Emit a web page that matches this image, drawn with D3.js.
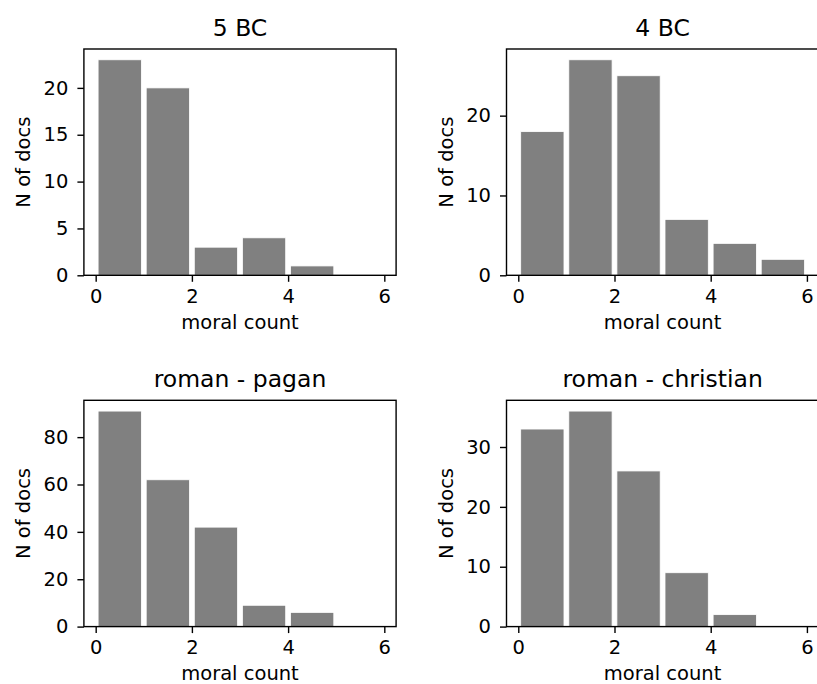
<!DOCTYPE html>
<html>
<head>
<meta charset="utf-8">
<script src="https://cdn.jsdelivr.net/npm/d3@7"></script>
<style>
  html, body { margin: 0; padding: 0; background: #fff; }
  svg { display: block; }
  text { font-family: "DejaVu Sans", sans-serif; fill: #000; }
</style>
</head>
<body>
<svg id="chart" width="817" height="684"></svg>
<script>
// ---- data ----
const titles = ["5 BC", "4 BC", "roman - pagan", "roman - christian"];
const binEdges = [0, 1, 2, 3, 4, 5, 6];
const counts5BC = [23, 20, 3, 4, 1, 0];
const counts4BC = [18, 27, 25, 7, 4, 2];
const countsPagan = [91, 62, 42, 9, 6, 0];
const countsChristian = [33, 36, 26, 9, 2, 0];
const xTicks = [0, 2, 4, 6];
const yTicks5BC = [0, 5, 10, 15, 20];
const yTicks4BC = [0, 10, 20];
const yTicksPagan = [0, 20, 40, 60, 80];
const yTicksChristian = [0, 10, 20, 30];
const xLabel = "moral count";
const yLabel = "N of docs";

const panels = [
  { title: titles[0], counts: counts5BC, yTicks: yTicks5BC, left: 83.9, top: 49 },
  { title: titles[1], counts: counts4BC, yTicks: yTicks4BC, left: 506.5, top: 49 },
  { title: titles[2], counts: countsPagan, yTicks: yTicksPagan, left: 83.9, top: 400.3 },
  { title: titles[3], counts: countsChristian, yTicks: yTicksChristian, left: 506.5, top: 400.3 }
];

const W = 312.2, H = 226.3;
const rwidth = 0.9;
const svg = d3.select("#chart");
const tickLen = 6.5;
const fs = 19.5;

panels.forEach(p => {
  const g = svg.append("g").attr("transform", `translate(${p.left},${p.top})`);
  const lo = binEdges[0] + (1 - rwidth) / 2;
  const hi = binEdges[binEdges.length - 1] - (1 - rwidth) / 2;
  const m = (hi - lo) * 0.05;
  const x = d3.scaleLinear().domain([lo - m, hi + m]).range([0, W]);
  const ymax = d3.max(p.counts) * 1.05;
  const y = d3.scaleLinear().domain([0, ymax]).range([H, 0]);

  const bins = p.counts.map((c, i) => ({ x0: binEdges[i], x1: binEdges[i + 1], c }));
  g.selectAll("rect.bar").data(bins.filter(d => d.c > 0)).enter().append("rect")
    .attr("class", "bar")
    .attr("x", d => x(d.x0 + (d.x1 - d.x0) * (1 - rwidth) / 2))
    .attr("width", d => x(d.x0 + (d.x1 - d.x0) * (1 + rwidth) / 2) - x(d.x0 + (d.x1 - d.x0) * (1 - rwidth) / 2))
    .attr("y", d => y(d.c))
    .attr("height", d => y(0) - y(d.c))
    .attr("fill", "#808080")
    .attr("stroke", "#ffffff")
    .attr("stroke-width", 0.8);

  // spines
  g.append("rect").attr("x", 0).attr("y", 0).attr("width", W).attr("height", H)
    .attr("fill", "none").attr("stroke", "#000").attr("stroke-width", 1.4);

  // x axis
  const xa = d3.axisBottom(x).tickValues(xTicks).tickFormat(d3.format("d"))
    .tickSizeInner(tickLen).tickSizeOuter(0).tickPadding(7);
  const gx = g.append("g").attr("transform", `translate(0,${H})`).call(xa);
  gx.select(".domain").remove();
  gx.selectAll(".tick line").attr("stroke", "#000").attr("stroke-width", 1.4);
  gx.selectAll(".tick text").attr("font-size", fs).attr("font-family", "DejaVu Sans").attr("fill", "#000");

  // y axis
  const ya = d3.axisLeft(y).tickValues(p.yTicks).tickFormat(d3.format("d"))
    .tickSizeInner(tickLen).tickSizeOuter(0).tickPadding(9);
  const gy = g.append("g").call(ya);
  gy.select(".domain").remove();
  gy.selectAll(".tick line").attr("stroke", "#000").attr("stroke-width", 1.4);
  gy.selectAll(".tick text").attr("font-size", fs).attr("font-family", "DejaVu Sans").attr("fill", "#000");

  // labels
  g.append("text").attr("x", W / 2).attr("y", H + 53.5).attr("text-anchor", "middle")
    .attr("font-size", fs).text(xLabel);
  g.append("text").attr("transform", `translate(-54,${H / 2}) rotate(-90)`)
    .attr("text-anchor", "middle").attr("font-size", fs).text(yLabel);
  g.append("text").attr("x", W / 2).attr("y", -13).attr("text-anchor", "middle")
    .attr("font-size", 23.5).text(p.title);
});
</script>
</body>
</html>
